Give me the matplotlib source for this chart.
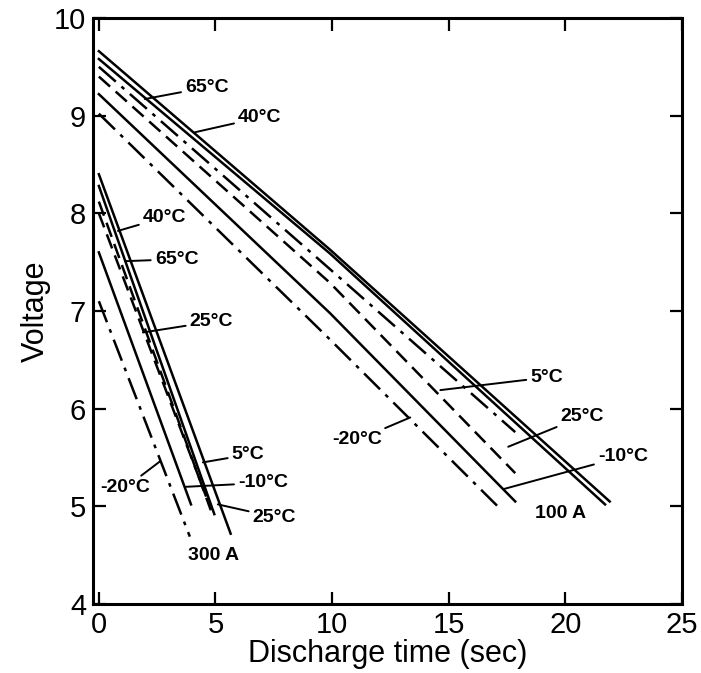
import matplotlib.pyplot as plt

plt.rcParams['font.family'] = ['Liberation Sans', 'DejaVu Sans']

# ------------------ 数据 ------------------
# 100 A 放电曲线：起点 (0, v0)、中间点 (tmid, vmid)、终点 (t_end, v_end)
temps_100 = ["65°C", "40°C", "5°C", "25°C", "-10°C", "-20°C"]
v0_100 = [9.66, 9.58, 9.50, 9.40, 9.22, 9.02]
tmid_100 = [9.9, 9.9, 9.9, 9.9, 9.9, 9.9]
vmid_100 = [7.63, 7.59, 7.43, 7.29, 6.98, 6.71]
tend_100 = [21.9, 21.7, 17.85, 17.85, 17.85, 17.1]
vend_100 = [5.05, 5.02, 5.76, 5.34, 5.05, 5.00]
style_100 = ["solid", "solid", "dashdot", "dashed", "solid", "dashdot"]

# 300 A 放电曲线
temps_300 = ["40°C", "65°C", "25°C", "5°C", "-10°C", "-20°C"]
v0_300 = [8.40, 8.28, 8.12, 8.00, 7.60, 7.10]
tend_300 = [5.65, 4.95, 4.80, 4.60, 3.95, 3.90]
vend_300 = [4.72, 4.92, 4.96, 5.10, 5.02, 4.69]
style_300 = ["solid", "solid", "dashed", "dashed", "solid", "dashdot"]

# 标注文字：(文字, 文字位置, 引线端点, 水平对齐)
labels = [
    ("65°C", (3.7, 9.29), (1.97, 9.17), "left"),
    ("40°C", (5.97, 8.98), (4.12, 8.83), "left"),
    ("5°C", (18.5, 6.32), (14.64, 6.19), "left"),
    ("25°C", (19.8, 5.92), (17.55, 5.61), "left"),
    ("-10°C", (21.4, 5.51), (17.4, 5.18), "left"),
    ("-20°C", (12.15, 5.68), (13.35, 5.91), "right"),
    ("40°C", (1.89, 7.96), (0.82, 7.82), "left"),
    ("65°C", (2.4, 7.53), (1.12, 7.51), "left"),
    ("25°C", (3.9, 6.89), (1.89, 6.78), "left"),
    ("5°C", (5.7, 5.53), (4.46, 5.45), "left"),
    ("-10°C", (5.97, 5.24), (3.73, 5.20), "left"),
    ("25°C", (6.6, 4.89), (5.10, 5.02), "left"),
    ("-20°C", (2.2, 5.19), (2.62, 5.46), "right"),
]
current_labels = [("100 A", (19.8, 4.93)), ("300 A", (4.9, 4.50))]

xticks = [0, 5, 10, 15, 20, 25]
yticks = [4, 5, 6, 7, 8, 9, 10]

dash_map = {"solid": "-", "dashed": (0, (6, 3)), "dashdot": (0, (9, 3, 1.5, 3))}

# ------------------ 绘图 ------------------
fig = plt.figure(figsize=(7.01, 6.73), dpi=100)
ax = fig.add_axes([0.1327, 0.1025, 0.8402, 0.8708])

for v0, tm, vm, te, ve, st in zip(v0_100, tmid_100, vmid_100,
                                  tend_100, vend_100, style_100):
    ax.plot([0, tm, te], [v0, vm, ve], color='k', lw=1.8,
            linestyle=dash_map[st])
for v0, te, ve, st in zip(v0_300, tend_300, vend_300, style_300):
    ax.plot([0, te], [v0, ve], color='k', lw=1.8, linestyle=dash_map[st])

for txt, pos, tip, ha in labels:
    ax.annotate(txt, xy=tip, xytext=pos, ha=ha, va='center',
                fontsize=14, fontweight='bold',
                arrowprops=dict(arrowstyle='-', color='k', lw=1.4,
                                shrinkA=1, shrinkB=0))
for txt, pos in current_labels:
    ax.text(pos[0], pos[1], txt, ha='center', va='center',
            fontsize=14, fontweight='bold')

ax.set_xlim(-0.25, 25)
ax.set_ylim(4, 10)
ax.set_xticks(xticks)
ax.set_yticks(yticks)
ax.tick_params(direction='in', length=9, width=1.6, labelsize=21,
               top=True, right=True, pad=5)
for sp in ax.spines.values():
    sp.set_linewidth(2.2)

ax.set_xlabel("Discharge time (sec)", fontsize=22, labelpad=0)
ax.set_ylabel("Voltage", fontsize=22, labelpad=2)

fig.savefig("out.png", dpi=100)
